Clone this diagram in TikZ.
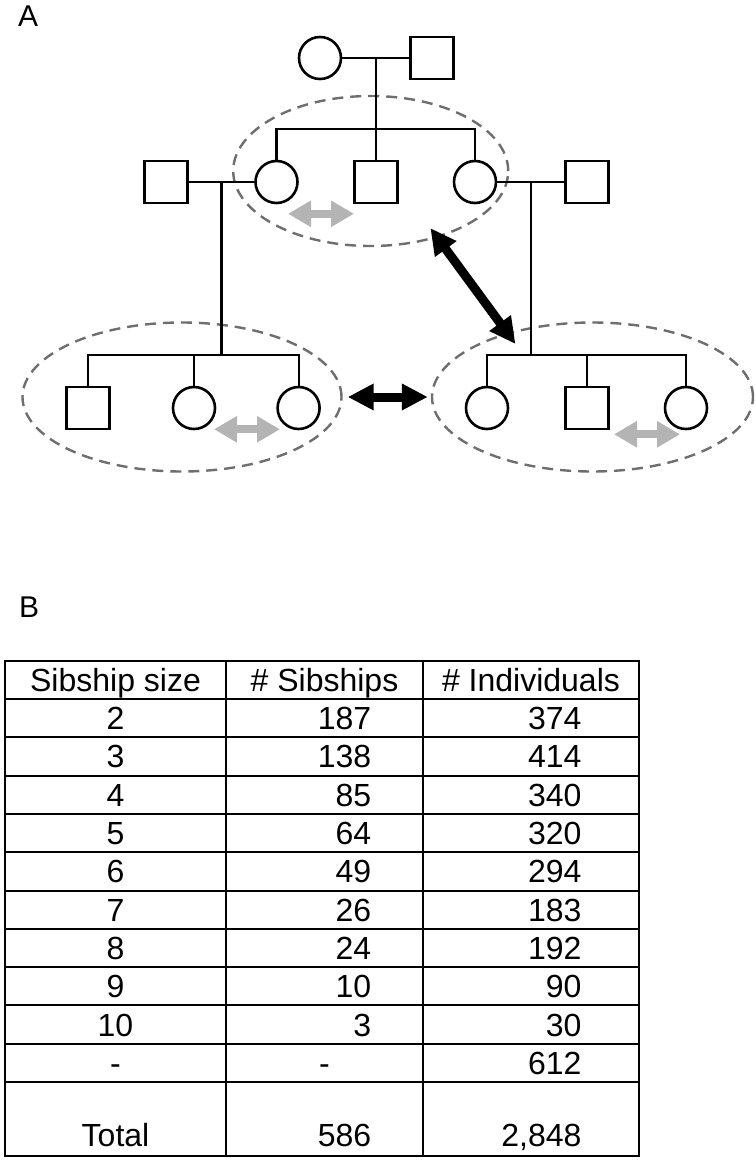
\documentclass[tikz,border=0pt]{standalone}
\usepackage{fontspec}
\setmainfont{Liberation Sans}
\usetikzlibrary{
  arrows.meta,
  calc,
  positioning,
  shapes.geometric,
}
\definecolor{ellgray}{HTML}{6E6E6E}
\definecolor{arrgray}{HTML}{B4B4B4}
\tikzset{
  female/.style={circle,draw,line width=2.6pt,minimum size=42,inner sep=0},
  male/.style={rectangle,draw,line width=2.6pt,minimum width=43,minimum height=42,inner sep=0},
  famline/.style={line width=2.2pt},
  sibship/.style={ellipse,draw=ellgray,line width=2.4pt,dash pattern=on 11pt off 7pt,inner sep=0},
  bigarrow/.style={line width=9pt,>={Triangle[length=26pt,width=25pt]},<->},
  softarrow/.style={line width=8pt,draw=arrgray,>={Triangle[length=23pt,width=25pt]},<->},
  tabline/.style={line width=2pt},
  cell/.style={inner sep=0,font=\fontsize{32}{38}\selectfont},
  panel/.style={inner sep=0,anchor=base west,font=\fontsize{30}{36}\selectfont},
}

\begin{document}
\begin{tikzpicture}[x=1pt,y=1pt]
  \useasboundingbox (0,0) rectangle (755,-1166);

  \node[panel] (labA) at (18,-27) {A};

  % sibships
  \node[sibship,minimum width=275,minimum height=150] (sibA) at (370.7,-171) {};
  \node[sibship,minimum width=319,minimum height=149] (sibB) at (182,-397) {};
  \node[sibship,minimum width=321,minimum height=149] (sibC) at (592.5,-397) {};

  % first generation
  \node[female] (m0) at (320,-58) {};
  \node[male] (f0) at (432,-58) {};

  % second generation
  \node[male] (s1) at (166,-182) {};
  \node[female] (c1) at (276.5,-182) {};
  \node[male] (c2) at (376,-182) {};
  \node[female] (c3) at (475,-182) {};
  \node[male] (s3) at (587,-182) {};

  % third generation
  \node[male] (g1) at (88,-408) {};
  \node[female] (g2) at (194,-408) {};
  \node[female] (g3) at (298.6,-408) {};
  \node[female] (h1) at (487,-408) {};
  \node[male] (h2) at (587,-408) {};
  \node[female] (h3) at (686,-408) {};

  % marriages and descent
  \draw[famline] (m0.east) -- coordinate (u0) (f0.west);
  \draw[famline] (c1.north) -- ++(0,31) coordinate (bA) -| (c3.north);
  \draw[famline] (u0) -- (u0 |- c2.north);

  \draw[famline] (s1.east) -- coordinate (u1) (c1.west);
  \draw[famline] (g1.north) -- ++(0,31) coordinate (bB) -| (g3.north);
  \draw[famline] (u1) -- (u1 |- bB);
  \draw[famline] (g2.north) -- (g2.north |- bB);

  \draw[famline] (c3.east) -- coordinate (u2) (s3.west);
  \draw[famline] (h1.north) -- ++(0,31) coordinate (bC) -| (h3.north);
  \draw[famline] (u2) -- (u2 |- bC);
  \draw[famline] (h2.north) -- (h2.north |- bC);

  % comparisons
  \draw[bigarrow,shorten <=5pt,shorten >=3pt] (sibB.east) -- (sibC.west);
  \draw[bigarrow,shorten <=-12pt,shorten >=-14pt] (sibA.-45) -- (sibC.143);

  \draw[softarrow] ($(c1.south)+(11.5,-9.5)$) -- ++(66,0);
  \draw[softarrow] ($(g2.south)+(20,1)$) -- ++(66,0);
  \draw[softarrow] ($(h2.south)+(27,-4)$) -- ++(66,0);

  \node[panel] (labB) at (19,-617) {B};

  % table
  \draw[tabline] (5,-660.7) rectangle (639,-1156);
  \foreach \k in {1,...,11}
    \draw[tabline] (5,{-660.7-38.3*\k}) -- (639,{-660.7-38.3*\k});
  \draw[tabline] (226,-660.7) -- (226,-1156);
  \draw[tabline] (423,-660.7) -- (423,-1156);

  \node[cell,anchor=base] (hd1) at (115.5,-691.3) {Sibship size};
  \node[cell,anchor=base] (hd2) at (324.5,-691.3) {\# Sibships};
  \node[cell,anchor=base] (hd3) at (531,-691.3) {\# Individuals};

  \foreach \sz/\ns/\ni [count=\r] in {2/187/374,3/138/414,4/85/340,5/64/320,6/49/294,7/26/183,8/24/192,9/10/90,10/3/30}{
    \node[cell,anchor=base] (sz\r) at (115.5,{-691.35-38.3*\r}) {\sz};
    \node[cell,anchor=base east] (ns\r) at (371.4,{-691.35-38.3*\r}) {\ns};
    \node[cell,anchor=base east] (ni\r) at (581.6,{-691.35-38.3*\r}) {\ni};
  }

  \node[cell,anchor=base] (szx) at (115.5,-1074.35) {-};
  \node[cell,anchor=base] (nsx) at (324.5,-1074.35) {-};
  \node[cell,anchor=base east] (nix) at (581.6,-1074.35) {612};

  \node[cell,anchor=base] (szt) at (115.5,-1146.7) {Total};
  \node[cell,anchor=base east] (nst) at (371.4,-1146.7) {586};
  \node[cell,anchor=base east] (nit) at (581.6,-1146.7) {2,848};

\end{tikzpicture}
\end{document}
